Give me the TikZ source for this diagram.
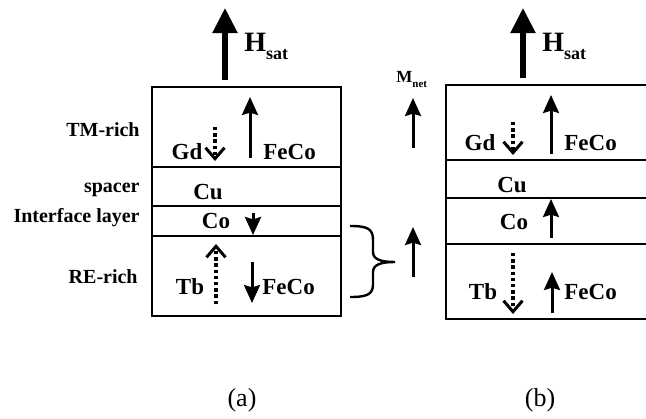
\documentclass[tikz,border=0pt]{standalone}
\usepackage{fontspec}
\setmainfont{Liberation Serif}
\usetikzlibrary{arrows.meta}
\tikzset{
  stack line/.style={line width=1.3pt},
  side label/.style={
    anchor=east,
    font=\bfseries\fontsize{10}{12}\selectfont,
    inner sep=0pt
  },
  layer label/.style={
    font=\bfseries\fontsize{11.5}{13}\selectfont,
    inner sep=0pt
  },
  spin solid/.style={
    -{Stealth[length=9pt,width=8pt,inset=1.2pt]},
    line width=1.5pt
  },
  spin dotted/.style={
    -{Straight Barb[length=5.5pt,width=9.5pt,line width=1.5pt]},
    line width=1.7pt,
    dash pattern=on 1.7pt off 1.4pt
  },
  field arrow/.style={
    -{Triangle[length=12.5pt,width=12pt]},
    line width=2.6pt
  },
  panel label/.style={font=\fontsize{13}{15}\selectfont}
}
\newcommand{\Hsat}{H\raisebox{-4pt}{\fontsize{9}{10}\selectfont sat}}
\newcommand{\Mnet}{M\raisebox{-2.5pt}{\fontsize{5.5}{6}\selectfont net}}

\begin{document}
\begin{tikzpicture}[x=0.5pt, y=-0.5pt]
        \useasboundingbox (0,0) rectangle (646,418);

        % (a) stack
        \draw[stack line] (152,87) rectangle (341,316);
        \draw[stack line] (152,167) -- (341,167);
        \draw[stack line] (152,206) -- (341,206);
        \draw[stack line] (152,236) -- (341,236);

        \node[side label] (tmA) at (140,130) {TM-rich};
        \node[side label] (spA) at (140,190) {spacer};
        \node[side label] (ifA) at (140,218) {Interface layer};
        \node[side label] (reA) at (138,277) {RE-rich};

        \draw[field arrow] (225,80) -- (225,8);
        \node[anchor=west,inner sep=0pt,font=\bfseries\fontsize{14}{16}\selectfont] (hA) at (244,46) {\Hsat};

        \node[layer label] (gdA) at (187,152) {Gd};
        \draw[spin dotted] (215,127) -- (215,161);
        \draw[spin solid] (250,158) -- (250,97);
        \node[layer label,anchor=west] (fecoA) at (263,152) {FeCo};

        \node[layer label] (cuA) at (208,192) {Cu};
        \node[layer label] (coA) at (216,221) {Co};
        \draw[spin solid] (253,213) -- (253,235);

        \node[layer label] (tbA) at (190,287) {Tb};
        \draw[spin dotted] (216,304) -- (216,244);
        \draw[spin solid] (252,262) -- (252,303);
        \node[layer label,anchor=west] (feco2A) at (262,287) {FeCo};

        % net moment
        \coordinate (brTop) at (350,226);
        \coordinate (brTip) at (395,262);
        \coordinate (brBot) at (350,297);
        \draw[line width=1.2pt] (brTop) .. controls (368,226) and (373,229) .. (373,240)
          -- (373,252) .. controls (373,259) and (380,262) .. (brTip)
          (brTip) .. controls (380,262) and (373,265) .. (373,272)
          -- (373,284) .. controls (373,294) and (368,297) .. (brBot);
        \draw[spin solid] (413,277) -- (413,227);
        \draw[spin solid] (413,148) -- (413,98);
        \node[anchor=west,inner sep=0pt,font=\bfseries\fontsize{8.5}{10}\selectfont] (mnet) at (396,79) {\Mnet};

        % (b) stack
        \draw[stack line] (646,85) -- (446,85) -- (446,319) -- (646,319);
        \draw[stack line] (446,160) -- (646,160);
        \draw[stack line] (446,198) -- (646,198);
        \draw[stack line] (446,244) -- (646,244);

        \draw[field arrow] (523,78) -- (523,8);
        \node[anchor=west,inner sep=0pt,font=\bfseries\fontsize{14}{16}\selectfont] (hB) at (542,46) {\Hsat};

        \node[layer label] (gdB) at (480,143) {Gd};
        \draw[spin dotted] (513,122) -- (513,155);
        \draw[spin solid] (551,154) -- (551,95);
        \node[layer label,anchor=west] (fecoB) at (564,143) {FeCo};

        \node[layer label] (cuB) at (512,185) {Cu};
        \node[layer label] (coB) at (514,222) {Co};
        \draw[spin solid] (551,238) -- (551,199);

        \node[layer label] (tbB) at (483,292) {Tb};
        \draw[spin dotted] (513,253) -- (513,314);
        \draw[spin solid] (552,313) -- (552,272);
        \node[layer label,anchor=west] (feco2B) at (564,292) {FeCo};

        \node[panel label] (capA) at (242,400) {(a)};
        \node[panel label] (capB) at (540,400) {(b)};
      \end{tikzpicture}
\end{document}
